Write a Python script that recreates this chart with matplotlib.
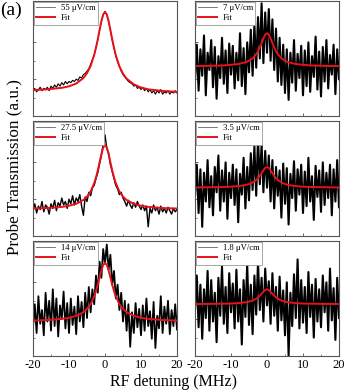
import numpy as np
import matplotlib
matplotlib.use("Agg")
import matplotlib.pyplot as plt
from matplotlib.ticker import MultipleLocator

plt.rcParams['font.family'] = ['Liberation Serif', 'DejaVu Serif']
plt.rcParams['mathtext.fontset'] = 'stix'
plt.rcParams['axes.unicode_minus'] = False

# field strengths (legend labels), column-major: left col then right col
labels = ['55 μV/cm', '27.5 μV/cm', '14 μV/cm', '7 μV/cm', '3.5 μV/cm', '1.8 μV/cm']

# measured trace, sampled every 0.5 MHz from -20 to 20 (normalized a.u.)
det = np.linspace(-20, 20, 81)

trace_55 = [0.22, 0.24, 0.21, 0.23, 0.25, 0.22, 0.24, 0.23, 0.25, 0.22, 0.26, 0.24, 0.27, 0.25, 0.28, 0.26, 0.29, 0.27, 0.30, 0.28, 0.30,
            0.29, 0.31, 0.30, 0.32, 0.31, 0.34, 0.33, 0.36, 0.37, 0.39, 0.41, 0.45, 0.49, 0.53, 0.60, 0.66, 0.75, 0.82, 0.88, 0.91,
            0.88, 0.82, 0.74, 0.66, 0.59, 0.52, 0.47, 0.43, 0.39, 0.36, 0.34, 0.32, 0.30, 0.29, 0.28, 0.26, 0.27, 0.24, 0.25, 0.23,
            0.25, 0.22, 0.24, 0.21, 0.23, 0.20, 0.22, 0.19, 0.22, 0.20, 0.23, 0.19, 0.21, 0.20, 0.22, 0.19, 0.21, 0.20, 0.22, 0.20]

trace_27 = [0.22, 0.28, 0.20, 0.26, 0.23, 0.30, 0.21, 0.27, 0.25, 0.19, 0.28, 0.24, 0.31, 0.22, 0.29, 0.26, 0.33, 0.27, 0.30, 0.24, 0.32,
            0.28, 0.35, 0.27, 0.33, 0.30, 0.36, 0.26, 0.18, 0.34, 0.30, 0.38, 0.35, 0.42, 0.44, 0.50, 0.55, 0.63, 0.70, 0.80, 0.88,
            0.76, 0.72, 0.62, 0.56, 0.50, 0.44, 0.41, 0.36, 0.38, 0.33, 0.30, 0.26, 0.31, 0.27, 0.24, 0.29, 0.25, 0.30, 0.26, 0.23,
            0.27, 0.22, 0.26, 0.08, 0.24, 0.20, 0.27, 0.22, 0.25, 0.19, 0.26, 0.21, 0.24, 0.20, 0.25, 0.22, 0.19, 0.24, 0.21, 0.23]

trace_14 = [0.25, 0.45, 0.20, 0.52, 0.28, 0.40, 0.18, 0.55, 0.30, 0.48, 0.22, 0.58, 0.26, 0.50, 0.17, 0.44, 0.32, 0.56, 0.24, 0.46, 0.20,
            0.50, 0.27, 0.43, 0.19, 0.52, 0.30, 0.47, 0.25, 0.55, 0.33, 0.60, 0.38, 0.58, 0.45, 0.70, 0.55, 0.82, 0.68, 0.93, 0.80,
            0.97, 0.75, 0.88, 0.62, 0.74, 0.50, 0.62, 0.40, 0.55, 0.30, 0.48, 0.22, 0.45, 0.08, 0.38, 0.20, 0.46, 0.25, 0.41, 0.18,
            0.44, 0.22, 0.50, 0.26, 0.39, 0.15, 0.47, 0.07, 0.35, 0.24, 0.52, 0.20, 0.43, 0.28, 0.48, 0.19, 0.40, 0.26, 0.45, 0.23]

trace_7 = [0.30, 0.62, 0.22, 0.58, 0.35, 0.70, 0.18, 0.55, 0.40, 0.66, 0.25, 0.60, 0.15, 0.52, 0.33, 0.68, 0.28, 0.57, 0.20, 0.63, 0.36,
           0.61, 0.24, 0.55, 0.31, 0.72, 0.26, 0.59, 0.19, 0.64, 0.38, 0.75, 0.35, 0.80, 0.42, 0.86, 0.50, 0.98, 0.46, 0.90, 0.55,
           0.93, 0.48, 0.84, 0.40, 0.76, 0.30, 0.68, 0.27, 0.62, 0.20, 0.58, 0.14, 0.55, 0.29, 0.66, 0.22, 0.54, 0.33, 0.61, 0.18,
           0.57, 0.26, 0.64, 0.21, 0.52, 0.34, 0.69, 0.23, 0.56, 0.17, 0.60, 0.30, 0.66, 0.24, 0.53, 0.36, 0.62, 0.19, 0.58, 0.32]

trace_3p5 = [0.35, 0.62, 0.20, 0.58, 0.08, 0.55, 0.30, 0.66, 0.25, 0.52, 0.18, 0.60, 0.38, 0.70, 0.22, 0.57, 0.30, 0.64, 0.15, 0.55, 0.33,
             0.62, 0.27, 0.58, 0.12, 0.54, 0.36, 0.68, 0.24, 0.60, 0.31, 0.72, 0.40, 0.78, 0.35, 0.85, 0.45, 0.80, 0.38, 0.74, 0.42,
             0.70, 0.30, 0.66, 0.24, 0.60, 0.35, 0.57, 0.16, 0.63, 0.28, 0.59, 0.10, 0.54, 0.33, 0.65, 0.22, 0.58, 0.36, 0.62, 0.20,
             0.56, 0.26, 0.68, 0.30, 0.52, 0.14, 0.61, 0.34, 0.57, 0.21, 0.64, 0.27, 0.55, 0.33, 0.62, 0.18, 0.58, 0.30, 0.66, 0.25]

trace_1p8 = [0.40, 0.70, 0.25, 0.62, 0.15, 0.58, 0.33, 0.74, 0.22, 0.66, 0.30, 0.55, 0.12, 0.68, 0.35, 0.78, 0.28, 0.60, 0.20, 0.72, 0.38,
             0.63, 0.24, 0.75, 0.30, 0.58, 0.10, 0.66, 0.34, 0.80, 0.27, 0.62, 0.19, 0.70, 0.36, 0.82, 0.40, 0.68, 0.30, 0.76, 0.44,
             0.65, 0.28, 0.72, 0.35, 0.60, 0.22, 0.69, 0.31, 0.57, 0.18, 0.64, 0.00, 0.55, 0.26, 0.71, 0.33, 0.84, 0.24, 0.66, 0.29,
             0.60, 0.20, 0.73, 0.34, 0.62, 0.16, 0.67, 0.30, 0.58, 0.25, 0.70, 0.38, 0.64, 0.22, 0.76, 0.31, 0.59, 0.14, 0.68, 0.33]

# Lorentzian fit curves
fit_x = [-20, -16, -12, -10, -8, -6, -5, -4, -3, -2.5, -2, -1.5, -1, -0.5, 0,
         0.5, 1, 1.5, 2, 2.5, 3, 4, 5, 6, 8, 10, 12, 16, 20]
fit_55 = [0.225, 0.232, 0.245, 0.258, 0.282, 0.330, 0.372, 0.435, 0.531, 0.594, 0.668, 0.749, 0.826, 0.883, 0.905,
          0.883, 0.826, 0.749, 0.668, 0.594, 0.529, 0.432, 0.368, 0.325, 0.275, 0.248, 0.232, 0.218, 0.210]
fit_27 = [0.239, 0.243, 0.253, 0.263, 0.280, 0.313, 0.342, 0.387, 0.460, 0.510, 0.571, 0.642, 0.713, 0.769, 0.790,
          0.769, 0.713, 0.642, 0.571, 0.510, 0.460, 0.387, 0.342, 0.313, 0.280, 0.263, 0.253, 0.243, 0.239]
fit_14 = [0.308, 0.313, 0.323, 0.332, 0.349, 0.381, 0.409, 0.451, 0.519, 0.565, 0.620, 0.683, 0.744, 0.792, 0.810,
          0.792, 0.744, 0.683, 0.620, 0.565, 0.519, 0.451, 0.409, 0.381, 0.349, 0.332, 0.323, 0.313, 0.308]
fit_7 = [0.434, 0.436, 0.440, 0.445, 0.452, 0.467, 0.481, 0.502, 0.537, 0.563, 0.595, 0.634, 0.674, 0.707, 0.720,
         0.707, 0.674, 0.634, 0.595, 0.563, 0.537, 0.502, 0.481, 0.467, 0.452, 0.445, 0.440, 0.436, 0.434]
fit_3p5 = [0.422, 0.424, 0.426, 0.429, 0.434, 0.443, 0.452, 0.465, 0.487, 0.502, 0.522, 0.546, 0.571, 0.592, 0.600,
           0.592, 0.571, 0.546, 0.522, 0.502, 0.487, 0.465, 0.452, 0.443, 0.434, 0.429, 0.426, 0.424, 0.422]
fit_1p8 = [0.452, 0.453, 0.455, 0.456, 0.460, 0.467, 0.473, 0.482, 0.498, 0.510, 0.524, 0.541, 0.559, 0.574, 0.580,
           0.574, 0.559, 0.541, 0.524, 0.510, 0.498, 0.482, 0.473, 0.467, 0.460, 0.456, 0.455, 0.453, 0.452]

traces = [trace_55, trace_27, trace_14, trace_7, trace_3p5, trace_1p8]
fits = [fit_55, fit_27, fit_14, fit_7, fit_3p5, fit_1p8]
trace_lw = [0.8, 1.0, 1.3, 1.5, 1.5, 1.5]

fig = plt.figure(figsize=(3.46, 3.91), dpi=100)

col_x = [33 / 346, 195 / 346]
row_y = [1 - 116 / 391, 1 - 236 / 391, 1 - 356 / 391]
w = 144 / 346
h = 115 / 391
frame = '#555555'

for i in range(6):
    col, row = divmod(i, 3)
    ax = fig.add_axes([col_x[col], row_y[row], w, h])
    ax.plot(det, traces[i], color='black', lw=trace_lw[i], label=labels[i])
    ax.plot(fit_x, fits[i], color='#e8101a', lw=1.4, label='Fit')
    ax.set_xlim(-20, 20)
    ax.set_ylim(0, 1)
    ax.xaxis.set_major_locator(MultipleLocator(10))
    ax.xaxis.set_minor_locator(MultipleLocator(5))
    ax.yaxis.set_major_locator(MultipleLocator(0.32))
    ax.yaxis.set_minor_locator(MultipleLocator(0.16))
    ax.tick_params(which='both', direction='in', colors=frame, labelcolor='black',
                   labelsize=9, pad=2)
    ax.tick_params(which='major', length=2.5, width=0.6)
    ax.tick_params(which='minor', length=1.5, width=0.5)
    ax.set_yticklabels([])
    if row < 2:
        ax.set_xticklabels([])
    for s in ax.spines.values():
        s.set_color(frame)
        s.set_linewidth(0.8)
    leg = ax.legend(loc='upper left', fontsize=6.2, frameon=True, fancybox=False,
                    borderaxespad=0.1, handlelength=2.2, handletextpad=0.6,
                    borderpad=0.3, labelspacing=0.2, framealpha=1)
    leg.get_frame().set_edgecolor('#999999')
    leg.get_frame().set_linewidth(0.6)
    leg.legend_handles[0].set_linewidth(0.5)
    leg.legend_handles[0].set_color('#444444')

fig.text(0.0, 0.995, '(a)', fontsize=14, ha='left', va='top')
fig.text(0.043, 0.572, 'Probe Transmission (a.u.)', fontsize=12.3, rotation=90,
         ha='center', va='center')
fig.text(0.5, 0.023, 'RF detuning (MHz)', fontsize=11.5, ha='center', va='center')

fig.savefig('out.png', dpi=100)
